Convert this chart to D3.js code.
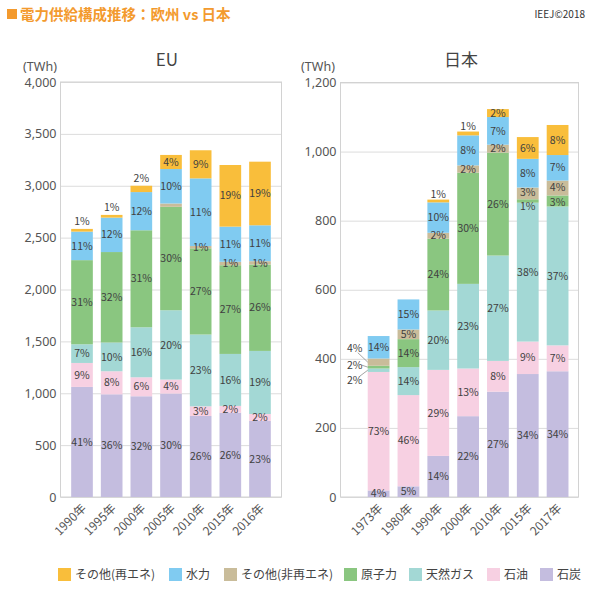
<!DOCTYPE html>
<html><head><meta charset="utf-8">
<script src="https://cdn.jsdelivr.net/npm/d3@7"></script>
<style>
body{margin:0;background:#fff;}
text{font-family:"Noto Sans CJK JP","Noto Sans",sans-serif;}
</style></head><body>
<svg id="c" width="595" height="601"></svg>
<script>
// ---------- DATA ----------
const seriesKeys = ["coal","oil","gas","nuclear","otherNR","hydro","renew"];
const seriesNames = {coal:"石炭", oil:"石油", gas:"天然ガス", nuclear:"原子力", otherNR:"その他(非再エネ)", hydro:"水力", renew:"その他(再エネ)"};
const seriesColors = {coal:"#C4BDDF", oil:"#F7D0E2", gas:"#A3D8D5", nuclear:"#8AC680", otherNR:"#C9BC9A", hydro:"#80CBF1", renew:"#F9BE3B"};
const legendOrder = ["renew","hydro","otherNR","nuclear","gas","oil","coal"];

// EU (TWh)
const euYears   = ["1990年","1995年","2000年","2005年","2010年","2015年","2016年"];
const euCoal    = [1061, 990, 971, 997, 781, 813, 733];
const euOil     = [231, 222, 183, 135, 93, 65, 67];
const euGas     = [180, 277, 482, 668, 692, 501, 608];
const euNuclear = [811, 872, 935, 997, 831, 855, 833];
const euOtherNR = [0, 0, 0, 32, 22, 33, 32];
const euHydro   = [275, 332, 368, 332, 652, 339, 346];
const euRenew   = [26, 26, 61, 136, 271, 594, 613];
// EU share labels (%)
const euCoalPct    = [41,36,32,30,26,26,23];
const euOilPct     = [9,8,6,4,3,2,2];
const euGasPct     = [7,10,16,20,23,16,19];
const euNuclearPct = [31,32,31,30,27,27,26];
const euOtherNRPct = [null,null,null,null,1,1,1];
const euHydroPct   = [11,12,12,10,11,11,11];
const euRenewPct   = [1,1,2,4,9,19,19];
const euTicks = [0,500,1000,1500,2000,2500,3000,3500,4000];

// Japan (TWh)
const jpYears   = ["1973年","1980年","1990年","2000年","2010年","2015年","2017年"];
const jpCoal    = [19, 31, 119, 234, 305, 356, 364];
const jpOil     = [343, 264, 249, 138, 89, 94, 75];
const jpGas     = [10, 81, 172, 245, 305, 402, 402];
const jpNuclear = [8, 81, 208, 322, 298, 10, 32];
const jpOtherNR = [21, 28, 17, 21, 23, 34, 43];
const jpHydro   = [65, 87, 88, 87, 80, 83, 74];
const jpRenew   = [0, 0, 8, 11, 23, 63, 87];
// Japan share labels (%)
const jpCoalPct    = [4,5,14,22,27,34,34];
const jpOilPct     = [73,46,29,13,8,9,7];
const jpGasPct     = [2,14,20,23,27,38,37];
const jpNuclearPct = [2,14,24,30,26,1,3];
const jpOtherNRPct = [4,5,2,2,2,3,4];
const jpHydroPct   = [14,15,10,8,7,8,7];
const jpRenewPct   = [null,null,1,1,2,6,8];
const jpTicks = [0,200,400,600,800,1000,1200];

// ---------- DRAW ----------
const svg = d3.select("#c");
svg.append("rect").attr("width",595).attr("height",601).attr("fill","#fff");

// header
svg.append("rect").attr("x",7).attr("y",9).attr("width",10).attr("height",10).attr("fill","#F39A2E");
svg.append("text").attr("x",20).attr("y",19.5).attr("font-size",14.5).attr("font-weight","bold")
  .attr("fill","#F39A2E").text("電力供給構成推移：欧州 vs 日本");
svg.append("text").attr("x",585).attr("y",18).attr("text-anchor","end").attr("font-size",10)
  .attr("fill","#333").text("IEEJ©2018");

function buildRows(cats, vals, pcts){
  return cats.map((c,i)=>{
    const r = {cat:c};
    seriesKeys.forEach((k,j)=>{ r[k]=vals[j][i]; r[k+"_pct"]=pcts[j][i]; });
    return r;
  });
}

function drawChart(cfg){
  const g = svg.append("g");
  const y = d3.scaleLinear().domain([0, cfg.yMax]).range([cfg.bottom, cfg.top]);
  const x = d3.scaleBand().domain(cfg.cats).range([cfg.bandL, cfg.bandR]).paddingInner(0.27).paddingOuter(cfg.po);
  const w = cfg.plotR - cfg.plotL;

  // grid
  g.append("g").attr("transform",`translate(${cfg.plotL},0)`)
    .call(d3.axisLeft(y).tickValues(cfg.ticks).tickSize(-w).tickFormat(d3.format(",")).tickPadding(4))
    .call(a=>a.select(".domain").remove())
    .call(a=>a.selectAll("line").attr("stroke","#dcdcdc").attr("stroke-width",1))
    .call(a=>a.selectAll("text").attr("font-size",12.5).attr("fill","#555")
      .style("font-family","'Noto Sans',sans-serif"));
  // box
  g.append("rect").attr("x",cfg.plotL).attr("y",cfg.top).attr("width",w).attr("height",cfg.bottom-cfg.top)
    .attr("fill","none").attr("stroke","#d2d2d2").attr("stroke-width",1);

  const stack = d3.stack().keys(seriesKeys)(cfg.rows);
  const layers = g.append("g").selectAll("g").data(stack).join("g").attr("fill",d=>seriesColors[d.key]);
  layers.selectAll("rect").data(d=>d).join("rect")
    .attr("x",d=>x(d.data.cat)).attr("width",x.bandwidth())
    .attr("y",d=>y(d[1])).attr("height",d=>Math.max(0,y(d[0])-y(d[1])));

  // labels
  const lab = g.append("g").attr("font-size",10.5).attr("fill","#404040").attr("text-anchor","middle")
    .style("font-family","'Noto Sans',sans-serif");
  stack.forEach(layer=>{
    const key = layer.key;
    layer.forEach(d=>{
      const p = d.data[key+"_pct"];
      if(p==null) return;
      const cx = x(d.data.cat)+x.bandwidth()/2;
      const y0 = y(d[0]), y1 = y(d[1]);
      const out = cfg.outside.find(o=>o.cat===d.data.cat && o.key===key);
      if(out){
        const ly = (y0+y1)/2 + out.dy;
        lab.append("text").attr("x",x(d.data.cat)-13).attr("y",ly).attr("dy","0.35em").text(p+"%");
        lab.append("line").attr("x1",x(d.data.cat)-(out.lx||5)).attr("y1",ly+out.ly)
          .attr("x2",x(d.data.cat)).attr("y2",(y0+y1)/2).attr("stroke","#666").attr("stroke-width",0.6);
        return;
      }
      const sh = cfg.shift.find(o=>o.cat===d.data.cat && o.key===key);
      const dy = sh ? sh.dy : 0;
      if(key==="renew" && (y0-y1)<7){
        lab.append("text").attr("x",cx).attr("y",y1-cfg.aboveGap).text(p+"%");
      } else {
        lab.append("text").attr("x",cx).attr("y",(y0+y1)/2+dy).attr("dy","0.35em").text(p+"%");
      }
    });
  });

  // x labels
  const xl = g.append("g").attr("font-size",12).attr("fill","#555");
  cfg.cats.forEach(c=>{
    xl.append("text").attr("transform",`translate(${x(c)+x.bandwidth()/2+2},${cfg.bottom+9}) rotate(-45)`)
      .attr("text-anchor","end").attr("dy","0.35em").text(c);
  });

  // title & unit
  g.append("text").attr("x",cfg.titleX).attr("y",66).attr("text-anchor","middle").attr("font-size",17)
    .attr("fill","#444").text(cfg.title);
  g.append("text").attr("x",cfg.unitX).attr("y",71).attr("text-anchor","middle").attr("font-size",12.5)
    .attr("fill","#555").style("font-family","'Noto Sans',sans-serif").text("(TWh)");
}

drawChart({
  title:"EU", cats:euYears,
  rows: buildRows(euYears,[euCoal,euOil,euGas,euNuclear,euOtherNR,euHydro,euRenew],
                  [euCoalPct,euOilPct,euGasPct,euNuclearPct,euOtherNRPct,euHydroPct,euRenewPct]),
  yMax:4000, ticks:euTicks, top:82, bottom:497, plotL:60.5, plotR:281.5, bandL:60.5, bandR:281.5, po:0.36,
  titleX:167, unitX:40, aboveGap:4, outside:[], shift:[]
});
drawChart({
  title:"日本", cats:jpYears,
  rows: buildRows(jpYears,[jpCoal,jpOil,jpGas,jpNuclear,jpOtherNR,jpHydro,jpRenew],
                  [jpCoalPct,jpOilPct,jpGasPct,jpNuclearPct,jpOtherNRPct,jpHydroPct,jpRenewPct]),
  yMax:1200, ticks:jpTicks, top:82.5, bottom:497, plotL:340.5, plotR:578.5, bandL:357.7, bandR:578.5, po:0.336,
  titleX:461, unitX:318, aboveGap:1.5,
  outside:[
    {cat:"1973年", key:"otherNR", dy:-13.5, lx:10, ly:4},
    {cat:"1973年", key:"nuclear", dy:-2, lx:6, ly:0},
    {cat:"1973年", key:"gas", dy:10, lx:8, ly:-4}
  ],
  shift:[
    {cat:"2015年", key:"nuclear", dy:5},
    {cat:"2015年", key:"otherNR", dy:-1.5},
    {cat:"2017年", key:"nuclear", dy:1},
    {cat:"2017年", key:"otherNR", dy:-1}
  ]
});

// legend
const legX = [58,169,224,344,409,487,540];
const leg = svg.append("g");
legendOrder.forEach((k,i)=>{
  leg.append("rect").attr("x",legX[i]).attr("y",568).attr("width",13).attr("height",13).attr("fill",seriesColors[k]);
  leg.append("text").attr("x",legX[i]+17).attr("y",574.5).attr("dy","0.35em").attr("font-size",12)
    .attr("fill","#444").text(seriesNames[k]);
});
</script>
</body></html>
